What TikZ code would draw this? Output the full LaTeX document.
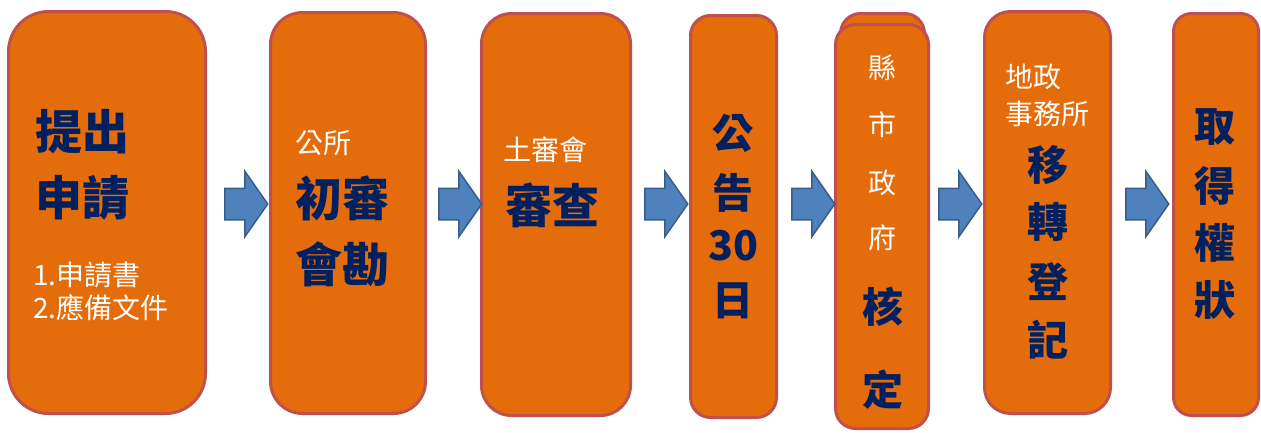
\documentclass[tikz,border=0pt]{standalone}
\usepackage{fontspec}
\setmainfont{Noto Sans CJK TC}
\usepackage{xcolor}
\usetikzlibrary{shapes.arrows}
\definecolor{boxorange}{RGB}{228,108,10}
\definecolor{boxline}{RGB}{192,80,77}
\definecolor{navytext}{RGB}{0,32,96}
\definecolor{arrowblue}{RGB}{79,129,189}
\definecolor{arrowline}{RGB}{56,93,138}
\tikzstyle{stage} = [rectangle, draw=boxline, line width=3pt, fill=boxorange, inner sep=0pt]
\tikzstyle{flowarrow} = [single arrow, draw=arrowline, line width=1.5pt, fill=arrowblue, inner sep=0pt, inner ysep=15pt, single arrow head extend=17pt, single arrow tip angle=110, minimum height=43pt, anchor=tail]
\tikzstyle{bigtext} = [text=navytext, font=\bfseries\fontsize{47}{47}\selectfont, inner sep=0pt]
\tikzstyle{midtext} = [text=navytext, font=\bfseries\fontsize{41}{41}\selectfont, inner sep=0pt]
\tikzstyle{smalltext} = [text=white, font=\fontsize{28}{28}\selectfont, inner sep=0pt]

\begin{document}
\begin{tikzpicture}[x=1pt,y=-1pt]
\useasboundingbox (0,0) rectangle (1261,432);
\node (b1) [stage, minimum width=197pt, minimum height=402pt, rounded corners=40pt] at (107,212.5) {};
\node (b2) [stage, minimum width=155pt, minimum height=401pt, rounded corners=32pt] at (348,213) {};
\node (b3) [stage, minimum width=149pt, minimum height=402pt, rounded corners=30pt] at (556,214.5) {};
\node (b4) [stage, minimum width=86pt, minimum height=402pt, rounded corners=20pt] at (733.5,216.5) {};
\node (b5back) [stage, minimum width=84pt, minimum height=405pt, rounded corners=20pt] at (882.5,216) {};
\node (b5) [stage, minimum width=93pt, minimum height=404pt, rounded corners=20pt] at (882,226.5) {};
\node (b6) [stage, minimum width=126pt, minimum height=402pt, rounded corners=26pt] at (1047.5,212.5) {};
\node (b7) [stage, minimum width=85pt, minimum height=402pt, rounded corners=18pt] at (1216,214.5) {};
\node (a1) [flowarrow] at (224,204) {};
\node (a2) [flowarrow] at (438,204) {};
\node (a3) [flowarrow] at (644,204) {};
\node (a4) [flowarrow] at (791,204) {};
\node (a5) [flowarrow] at (938,204) {};
\node (a6) [flowarrow] at (1125,204) {};
\node (t1a) [bigtext, anchor=west] at (35,132) {提出};
\node (t1b) [bigtext, anchor=west] at (35,198) {申請};
\node (t1c) [smalltext, anchor=west] at (33,275) {1.申請書};
\node (t1d) [smalltext, anchor=west] at (33,308) {2.應備文件};
\node (t2a) [smalltext, anchor=west] at (295,143) {公所};
\node (t2b) [bigtext, anchor=west] at (295,198) {初審};
\node (t2c) [bigtext, anchor=west] at (295,264) {會勘};
\node (t3a) [smalltext, anchor=west] at (503,150) {土審會};
\node (t3b) [bigtext, anchor=west] at (505,205) {審查};
\node (t4a) [midtext] at (733,133) {公};
\node (t4b) [midtext] at (733,193) {告};
\node (t4c) [midtext] at (733,246) {30};
\node (t4d) [midtext] at (733,301) {日};
\node (t5a) [smalltext] at (882,68) {縣};
\node (t5b) [smalltext] at (882,125) {市};
\node (t5c) [smalltext] at (882,183) {政};
\node (t5d) [smalltext] at (882,238) {府};
\node (t5e) [midtext] at (883,307) {核};
\node (t5f) [midtext] at (883,390) {定};
\node (t6a) [smalltext, anchor=west] at (1005,77) {地政};
\node (t6b) [smalltext, anchor=west] at (1005,114) {事務所};
\node (t6c) [midtext] at (1048,165) {移};
\node (t6d) [midtext] at (1048,222) {轉};
\node (t6e) [midtext] at (1048,282) {登};
\node (t6f) [midtext] at (1048,340) {記};
\node (t7a) [midtext] at (1215,127) {取};
\node (t7b) [midtext] at (1215,186) {得};
\node (t7c) [midtext] at (1215,243) {權};
\node (t7d) [midtext] at (1215,300) {狀};
\end{tikzpicture}
\end{document}
